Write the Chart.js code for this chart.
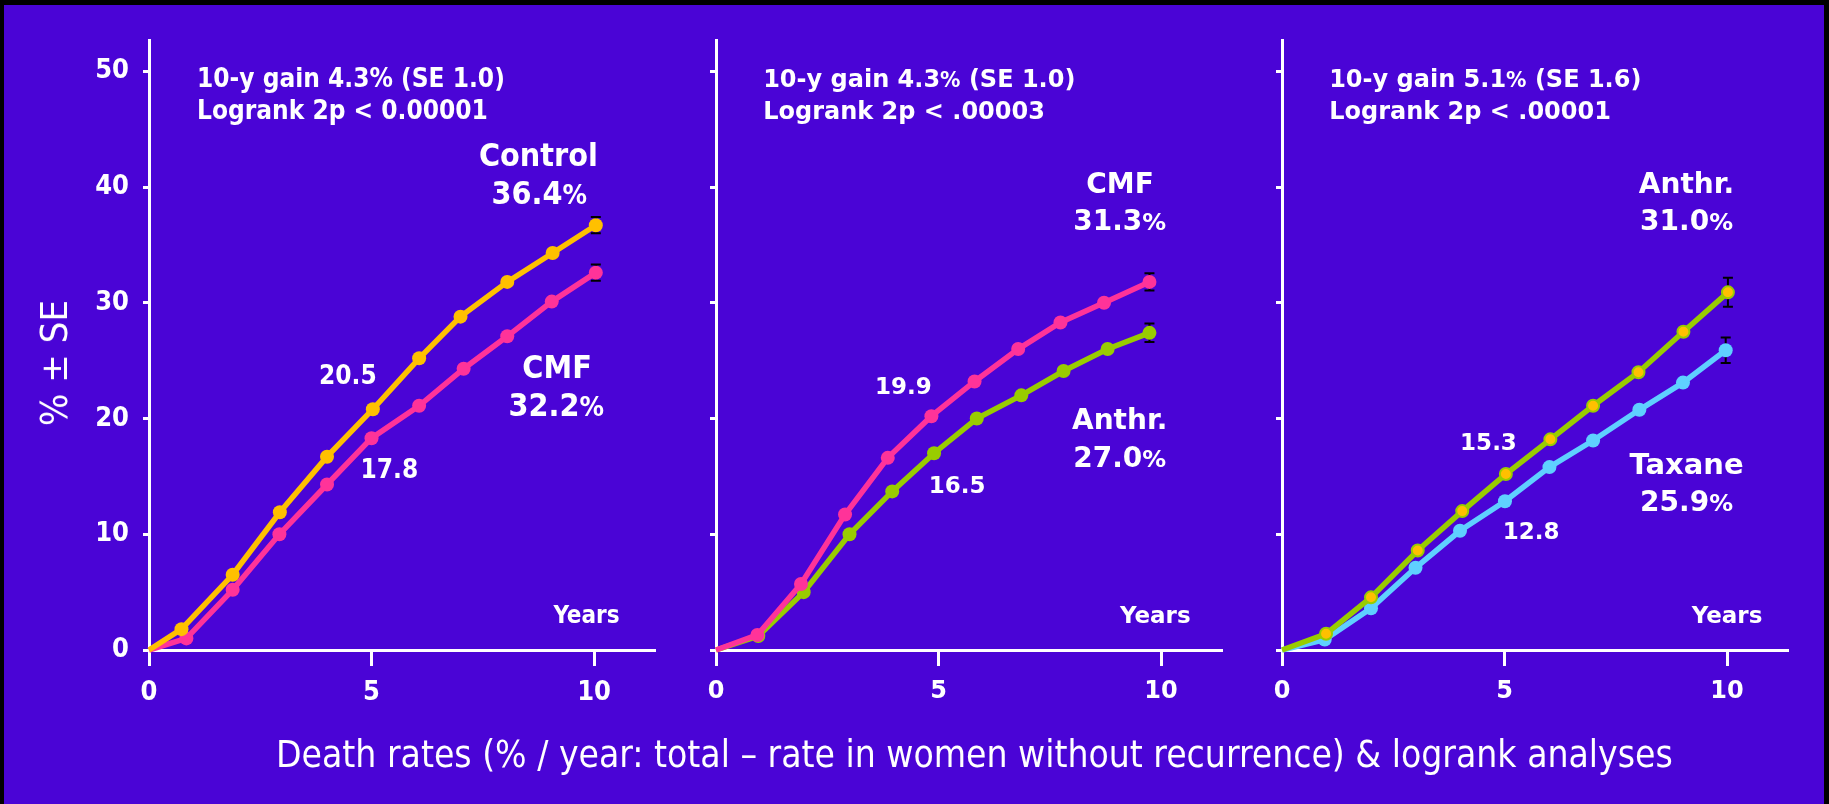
<!DOCTYPE html>
<html>
<head>
<meta charset="utf-8">
<script src="https://cdn.jsdelivr.net/npm/chart.js@4.4.1/dist/chart.umd.min.js"></script>
<style>
  html, body { margin: 0; padding: 0; }
  body { width: 1829px; height: 804px; background: #000; position: relative; overflow: hidden; }
  #bg { position: absolute; left: 4px; top: 5px; width: 1820px; height: 799px; background: #4a04d6; }
  canvas { position: absolute; top: 0; }
  .txt { position: absolute; color: #fff; white-space: nowrap; line-height: 1; font-family: 'DejaVu Sans Condensed', 'DejaVu Sans', sans-serif; }
  #ytitle { left: 54px; top: 363px; font-size: 38px; transform: translate(-50%, -50%) rotate(-90deg); }
  #xtitle { left: 276px; top: 739px; font-size: 34px; }
</style>
</head>
<body>
<div id="bg"></div>
<canvas id="c1" width="662" height="804" style="left:0px"></canvas>
<canvas id="c2" width="573" height="804" style="left:656px"></canvas>
<canvas id="c3" width="574" height="804" style="left:1222px"></canvas>
<div class="txt" id="ytitle">% ± SE</div>
<div class="txt" id="xtitle">Death rates (% / year: total – rate in women without recurrence) &amp; logrank analyses</div>
<script>
'use strict'
// ---- data ----
const xTicks = [0, 5, 10];
const yTicks = [0, 10, 20, 30, 40, 50];

// panel 1: Control vs CMF
const ctrlYears = [0, 0.73, 1.88, 2.94, 4.0, 5.03, 6.07, 7.0, 8.05, 9.07, 10.04];
const ctrlRate = [0, 1.8, 6.5, 11.9, 16.7, 20.8, 25.2, 28.8, 31.8, 34.3, 36.7];
const cmf1Years = [0, 0.84, 1.88, 2.93, 4.0, 5.0, 6.07, 7.07, 8.05, 9.05, 10.04];
const cmf1Rate = [0, 1.0, 5.2, 10.0, 14.3, 18.3, 21.1, 24.3, 27.1, 30.1, 32.6];
const se1 = [0.7, 0.7];

// panel 2: CMF vs Anthracycline
const cmf2Years = [0, 0.93, 1.91, 2.9, 3.86, 4.84, 5.81, 6.79, 7.74, 8.72, 9.74];
const cmf2Rate = [0, 1.3, 5.7, 11.7, 16.6, 20.2, 23.2, 26.0, 28.3, 30.0, 31.8];
const anth2Years = [0, 0.95, 1.97, 3.0, 3.96, 4.9, 5.86, 6.86, 7.81, 8.8, 9.74];
const anth2Rate = [0, 1.2, 5.0, 10.0, 13.7, 17.0, 20.0, 22.0, 24.1, 26.0, 27.4];
const se2 = [0.75, 0.8];

// panel 3: Anthracycline vs Taxane
const anth3Years = [0, 0.99, 2.0, 3.05, 4.05, 5.03, 6.03, 6.99, 8.01, 9.02, 10.02];
const anth3Rate = [0, 1.4, 4.55, 8.6, 12.0, 15.2, 18.2, 21.1, 24.0, 27.5, 30.9];
const tax3Years = [0, 0.96, 2.0, 3.0, 4.0, 5.01, 6.01, 6.99, 8.03, 9.01, 9.97];
const tax3Rate = [0, 0.9, 3.6, 7.1, 10.3, 12.85, 15.8, 18.1, 20.75, 23.1, 25.9];
const se3 = [1.25, 1.1];

const notes1 = ['10-y gain 4.3% (SE 1.0)', 'Logrank 2p < 0.00001'];
const notes2 = ['10-y gain 4.3% (SE 1.0)', 'Logrank 2p < .00003'];
const notes3 = ['10-y gain 5.1% (SE 1.6)', 'Logrank 2p < .00001'];

const YELLOW = '#ffc000', PINK = '#ff3399', GREEN = '#99cc00', BLUE = '#5fd0ff';
const COND = "'DejaVu Sans Condensed', 'DejaVu Sans', sans-serif";
const WIDE = "'DejaVu Sans', sans-serif";

function pts(xs, ys) {
  return xs.map((v, i) => ({ x: v, y: ys[i] }));
}

// draws a string, with '%' a bit smaller when asked
function drawText(ctx, text, x, y, size, family, align, smallPct) {
  const runs = [];
  for (const ch of text) {
    const small = smallPct && ch === '%';
    const last = runs[runs.length - 1];
    if (last && last.small === small) last.s += ch;
    else runs.push({ s: ch, small: small });
  }
  let total = 0;
  runs.forEach(r => {
    ctx.font = 'bold ' + (r.small ? size * 0.85 : size) + 'px ' + family;
    r.w = ctx.measureText(r.s).width;
    total += r.w;
  });
  let cx = align === 'left' ? x : x - total / 2;
  runs.forEach(r => {
    ctx.font = 'bold ' + (r.small ? size * 0.85 : size) + 'px ' + family;
    ctx.textAlign = 'left';
    ctx.fillText(r.s, cx, y);
    cx += r.w;
  });
}

const annot = {
  id: 'annot',
  afterDatasetsDraw(chart, args, opts) {
    const ctx = chart.ctx;
    const xs = chart.scales.x, ys = chart.scales.y;
    ctx.save();
    ctx.fillStyle = '#fff';
    ctx.textBaseline = 'alphabetic';
    opts.items.forEach(it => {
      drawText(ctx, it.text, xs.getPixelForValue(it.x), ys.getPixelForValue(it.y),
        it.size, opts.family, it.align || 'center', it.pct);
    });
    ctx.restore();
  }
};

const errBars = {
  id: 'errBars',
  beforeDatasetsDraw(chart) {
    const ctx = chart.ctx;
    const xs = chart.scales.x, ys = chart.scales.y;
    ctx.save();
    ctx.strokeStyle = '#000';
    ctx.lineWidth = 2;
    chart.data.datasets.forEach(ds => {
      if (!ds.se) return;
      const p = ds.data[ds.data.length - 1];
      const px = xs.getPixelForValue(p.x);
      const top = ys.getPixelForValue(p.y + ds.se), bot = ys.getPixelForValue(p.y - ds.se);
      ctx.beginPath();
      ctx.moveTo(px, top); ctx.lineTo(px, bot);
      ctx.moveTo(px - 5, top); ctx.lineTo(px + 5, top);
      ctx.moveTo(px - 5, bot); ctx.lineTo(px + 5, bot);
      ctx.stroke();
    });
    ctx.restore();
  }
};

function series(label, xs, ys, color, se, fill) {
  return {
    label: label,
    data: pts(xs, ys),
    borderColor: color,
    backgroundColor: fill || color,
    pointBackgroundColor: fill || color,
    pointBorderColor: color,
    pointBorderWidth: fill ? 2 : 0,
    borderWidth: 5.5,
    pointRadius: c => c.dataIndex === 0 ? 0 : (fill ? 6 : 7),
    se: se,
    clip: false
  };
}

function makeChart(id, yWidth, showY, family, tickSize, datasets, items) {
  return new Chart(document.getElementById(id), {
    type: 'line',
    data: { datasets: datasets },
    plugins: [errBars, annot],
    options: {
      responsive: false,
      animation: false,
      layout: { padding: { top: 40, right: 0, left: 0, bottom: 0 } },
      plugins: {
        legend: { display: false },
        tooltip: { enabled: false },
        annot: { items: items, family: family }
      },
      scales: {
        x: {
          type: 'linear', min: 0, max: 11.37,
          afterBuildTicks: s => { s.ticks = xTicks.map(v => ({ value: v })); },
          afterFit: s => { s.height = 154; },
          border: { display: true, color: '#fff', width: 3 },
          grid: { drawOnChartArea: false, drawTicks: true, tickLength: 16, tickWidth: 3, tickColor: '#fff' },
          ticks: { color: '#fff', padding: 11, font: { family: family, size: tickSize, weight: 'bold' } }
        },
        y: {
          type: 'linear', min: 0, max: 52.7,
          afterBuildTicks: s => { s.ticks = yTicks.map(v => ({ value: v })); },
          afterFit: s => { s.width = yWidth; },
          border: { display: true, color: '#fff', width: 3 },
          grid: { drawOnChartArea: false, drawTicks: true, tickLength: 6, tickWidth: 3, tickColor: '#fff' },
          ticks: { display: showY, color: '#fff', padding: 14, font: { family: family, size: tickSize, weight: 'bold' } }
        }
      }
    }
  });
}

makeChart('c1', 149, true, COND, 27, [
  series('Control', ctrlYears, ctrlRate, YELLOW, se1[0]),
  series('CMF', cmf1Years, cmf1Rate, PINK, se1[1])
], [
  { text: notes1[0], x: 1.08, y: 48.6, size: 26, align: 'left' },
  { text: notes1[1], x: 1.08, y: 45.9, size: 26, align: 'left' },
  { text: 'Control', x: 8.75, y: 41.8, size: 32 },
  { text: '36.4%', x: 8.77, y: 38.5, size: 32, pct: true },
  { text: 'CMF', x: 9.17, y: 23.5, size: 32 },
  { text: '32.2%', x: 9.15, y: 20.2, size: 32, pct: true },
  { text: '20.5', x: 4.47, y: 23.0, size: 26 },
  { text: '17.8', x: 5.4, y: 14.9, size: 26 },
  { text: 'Years', x: 9.83, y: 2.3, size: 24 }
]);

makeChart('c2', 60, false, WIDE, 24, [
  series('CMF', cmf2Years, cmf2Rate, PINK, se2[0]),
  series('Anthr.', anth2Years, anth2Rate, GREEN, se2[1])
], [
  { text: notes2[0], x: 1.06, y: 48.6, size: 24, align: 'left', pct: true },
  { text: notes2[1], x: 1.06, y: 45.9, size: 24, align: 'left' },
  { text: 'CMF', x: 9.08, y: 39.5, size: 28 },
  { text: '31.3%', x: 9.07, y: 36.3, size: 28, pct: true },
  { text: '19.9', x: 4.21, y: 22.1, size: 23 },
  { text: 'Anthr.', x: 9.07, y: 19.1, size: 28 },
  { text: '27.0%', x: 9.07, y: 15.8, size: 28, pct: true },
  { text: '16.5', x: 5.42, y: 13.6, size: 23 },
  { text: 'Years', x: 9.87, y: 2.3, size: 23 }
]);

makeChart('c3', 60, false, WIDE, 24, [
  series('Anthr.', anth3Years, anth3Rate, GREEN, se3[0], YELLOW),
  series('Taxane', tax3Years, tax3Rate, BLUE, se3[1])
], [
  { text: notes3[0], x: 1.06, y: 48.6, size: 24, align: 'left', pct: true },
  { text: notes3[1], x: 1.06, y: 45.9, size: 24, align: 'left' },
  { text: 'Anthr.', x: 9.09, y: 39.5, size: 28 },
  { text: '31.0%', x: 9.09, y: 36.3, size: 28, pct: true },
  { text: '15.3', x: 4.64, y: 17.3, size: 23 },
  { text: 'Taxane', x: 9.09, y: 15.2, size: 29 },
  { text: '25.9%', x: 9.09, y: 12.0, size: 28, pct: true },
  { text: '12.8', x: 5.6, y: 9.6, size: 23 },
  { text: 'Years', x: 10.0, y: 2.3, size: 23 }
]);

// stretch the bottom title to the width it has in the picture
const xt = document.getElementById('xtitle');
const fs = 34 * 1397 / xt.offsetWidth;
xt.style.fontSize = fs + 'px';
xt.style.top = (768 - 0.846 * fs) + 'px';
</script>
</body>
</html>
